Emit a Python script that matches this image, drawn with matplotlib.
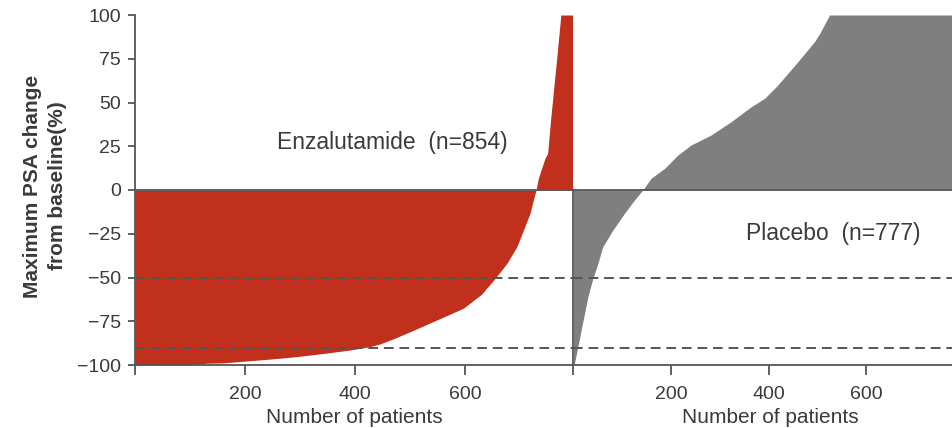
import numpy as np
import matplotlib
matplotlib.use("Agg")
import matplotlib.pyplot as plt

plt.rcParams['font.family'] = ['Liberation Sans', 'DejaVu Sans']

# sorted maximum PSA change per patient (rank, % change)
enz_rank = [0, 100, 130, 160, 203, 250, 294, 340, 390, 427, 445, 470, 500, 548.5,
            597, 630, 654.5, 676, 694, 706, 718, 724, 729,
            733, 745, 750, 752, 755, 761, 767, 774, 797]
enz_change = [-100, -100, -99, -98.8, -97.7, -96.5, -95.2, -93.5, -91.5, -89.5, -88, -85,
              -81, -74.3, -67.5, -59.5, -50.5, -41.9, -32.4, -22.9, -13.3, -5.7, 0,
              6.7, 18, 21, 28, 39, 58, 77, 100, 100]

pla_rank = [0, 2, 8.9, 15.7, 22.6, 29.4, 39.7, 50, 60, 80.7, 104.6, 125, 139, 142,
            159, 187, 214, 241, 282, 323, 364.5, 392, 419, 460, 494, 505, 525, 777]
pla_change = [-100, -99, -89.5, -80, -70.5, -61, -50.5, -41.9, -32.4, -22.9, -13.3, -5.7,
              -1, 0, 6.7, 12.4, 20, 25.7, 31.4, 39, 47.6, 52.4, 60, 73.3, 84.7, 89.5,
              100, 100]

enz_label = "Enzalutamide  (n=854)"
pla_label = "Placebo  (n=777)"
xticks = [0, 200, 400, 600]
xticklabels = ["", "200", "400", "600"]
yticks = [-100, -75, -50, -25, 0, 25, 50, 75, 100]
cutoffs = [-50, -90]

red = "#c0301c"
grey = "#7f7f7f"
line_col = "#555555"
text_col = "#3a3a3a"

W, H = 953, 428
fig = plt.figure(figsize=(W / 100, H / 100), dpi=100)
bottom = (H - 365) / H
height = 350 / H
ax1 = fig.add_axes([135 / W, bottom, 438.5 / W, height])
ax2 = fig.add_axes([573.5 / W, bottom, (968 - 573.5) / W, height])

ax1.fill_between(enz_rank, enz_change, 0, color=red, lw=0, zorder=1)
ax2.fill_between(pla_rank, pla_change, 0, color=grey, lw=0, zorder=1)

ax1.set_xlim(0, 797)
ax2.set_xlim(0, 809)
for ax in (ax1, ax2):
    ax.set_ylim(-100, 100)
    ax.axhline(0, color=line_col, lw=1.3, zorder=3)
    for c in cutoffs:
        ax.axhline(c, color=line_col, lw=1.4, linestyle=(0, (5, 3)), zorder=3)
    ax.spines['top'].set_visible(False)
    ax.spines['right'].set_visible(False)
    for s in ('left', 'bottom'):
        ax.spines[s].set_color(line_col)
        ax.spines[s].set_linewidth(1.3)
    ax.set_xticks(xticks)
    ax.set_xticklabels(xticklabels)
    ax.tick_params(axis='x', length=7, width=1.3, color=line_col, pad=8,
                   labelsize=14, labelcolor=text_col)
    ax.set_xlabel("Number of patients", fontsize=15, color=text_col, labelpad=3.5)

ax1.set_yticks(yticks)
ax1.set_yticklabels([str(t).replace("-", "\u2212") for t in yticks])
ax1.tick_params(axis='y', length=5, width=1.3, color=line_col, pad=5,
                labelsize=14, labelcolor=text_col)

ax2.spines['left'].set_bounds(-100, 0)
ax2.tick_params(axis='y', left=False, labelleft=False)

ax1.text(258, 27, enz_label, fontsize=16.5, color=text_col, ha='left', va='center')
ax2.text(353, -25, pla_label, fontsize=16.5, color=text_col, ha='left', va='center')

fig.text(45 / W, 1 - 186 / H, "Maximum PSA change\nfrom baseline(%)",
         rotation=90, ha='center', va='center', multialignment='center',
         fontsize=15, fontweight='bold', color=text_col, linespacing=1.4)

fig.savefig("out.png", dpi=100)
